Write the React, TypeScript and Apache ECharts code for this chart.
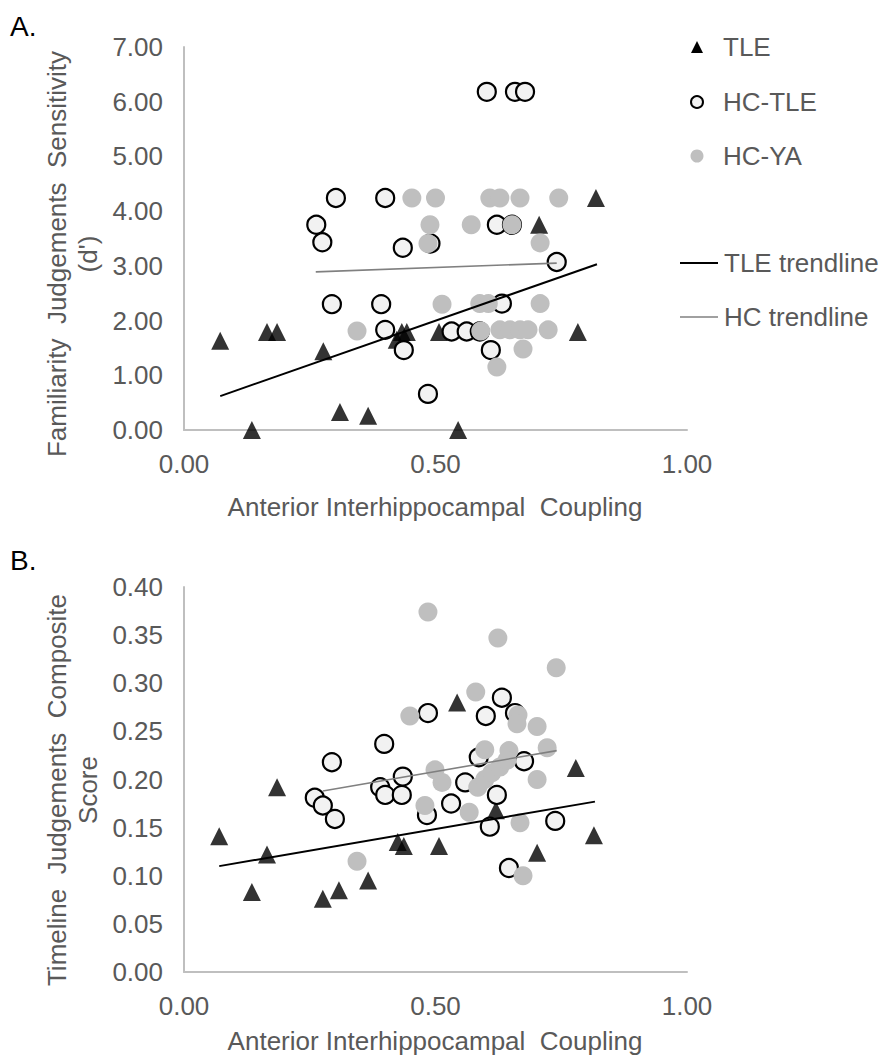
import React, { useEffect, useRef } from "react";
import * as echarts from "echarts";

// Panel A: Familiarity Judgements Sensitivity (d')
const tleA = [
  [0.072, 1.63], [0.135, 0], [0.165, 1.79], [0.185, 1.79], [0.277, 1.44], [0.31, 0.33], [0.366, 0.26],
  [0.423, 1.65], [0.433, 1.79], [0.443, 1.79], [0.507, 1.79], [0.545, 0], [0.706, 3.75], [0.783, 1.79], [0.819, 4.24],
];
const hcTleA = [
  [0.302, 4.24], [0.4, 4.24], [0.263, 3.75], [0.275, 3.43], [0.435, 3.33], [0.49, 3.41], [0.602, 6.18],
  [0.658, 6.18], [0.678, 6.18], [0.622, 3.75], [0.652, 3.75], [0.741, 3.07], [0.294, 2.3], [0.392, 2.3],
  [0.632, 2.31], [0.4, 1.83], [0.437, 1.46], [0.485, 0.66], [0.532, 1.8], [0.562, 1.8], [0.588, 1.8], [0.61, 1.46],
];
const hcYaA = [
  [0.453, 4.24], [0.5, 4.24], [0.608, 4.24], [0.628, 4.24], [0.668, 4.24], [0.745, 4.24], [0.489, 3.75],
  [0.571, 3.75], [0.652, 3.75], [0.485, 3.41], [0.708, 3.42], [0.513, 2.3], [0.588, 2.31], [0.605, 2.31],
  [0.708, 2.31], [0.344, 1.81], [0.59, 1.81], [0.628, 1.83], [0.648, 1.83], [0.668, 1.83], [0.684, 1.83],
  [0.724, 1.83], [0.674, 1.48], [0.622, 1.15],
];
const tleTrendA = [[0.072, 0.62], [0.821, 3.03]];
const hcTrendA = [[0.262, 2.89], [0.741, 3.05]];

// Panel B: Timeline Judgements Composite Score
const tleB = [
  [0.07, 0.141], [0.135, 0.083], [0.165, 0.122], [0.185, 0.192], [0.276, 0.076], [0.308, 0.085], [0.366, 0.095],
  [0.425, 0.135], [0.437, 0.131], [0.507, 0.131], [0.543, 0.28], [0.62, 0.168], [0.702, 0.124], [0.779, 0.212], [0.815, 0.142],
];
const hcTleB = [
  [0.26, 0.181], [0.276, 0.173], [0.294, 0.218], [0.3, 0.159], [0.39, 0.192], [0.398, 0.237], [0.4, 0.184],
  [0.433, 0.184], [0.435, 0.203], [0.483, 0.163], [0.485, 0.269], [0.531, 0.175], [0.559, 0.197], [0.586, 0.223],
  [0.6, 0.266], [0.608, 0.151], [0.622, 0.184], [0.632, 0.285], [0.646, 0.108], [0.658, 0.269], [0.676, 0.219], [0.738, 0.157],
];
const hcYaB = [
  [0.485, 0.374], [0.449, 0.266], [0.499, 0.21], [0.624, 0.347], [0.74, 0.316], [0.58, 0.291], [0.664, 0.267],
  [0.662, 0.258], [0.702, 0.255], [0.722, 0.233], [0.598, 0.231], [0.646, 0.23], [0.513, 0.197], [0.584, 0.192],
  [0.598, 0.2], [0.612, 0.207], [0.628, 0.213], [0.642, 0.22], [0.702, 0.2], [0.479, 0.173], [0.567, 0.166],
  [0.668, 0.155], [0.674, 0.1], [0.344, 0.115],
];
const tleTrendB = [[0.07, 0.11], [0.817, 0.177]];
const hcTrendB = [[0.276, 0.188], [0.741, 0.23]];

const xTicks = { min: 0, max: 1, interval: 0.5 };
const yTicksA = { min: 0, max: 7, interval: 1 };
const yTicksB = { min: 0, max: 0.4, interval: 0.05 };

const xTitle = "Anterior Interhippocampal  Coupling";
const yTitleA = "Familiarity  Judgements  Sensitivity\n(d')";
const yTitleB = "Timeline  Judgements  Composite\nScore";
const legendNames = ["TLE", "HC-TLE", "HC-YA", "TLE trendline", "HC trendline"];

const FONT = "'Liberation Sans', Arial, sans-serif";
const TXT = "#595959";
const FS = 26;

export default function App() {
  const ref = useRef<HTMLDivElement>(null);
  useEffect(() => {
    if (!ref.current) return;
    const chart = echarts.init(ref.current, null, { renderer: "svg" });
    const axisLine = { show: true, lineStyle: { color: "#bfbfbf", width: 2 } };
    const mkX = (gi: number) => ({
      type: "value", gridIndex: gi, ...xTicks,
      axisLine, axisTick: { show: false }, splitLine: { show: false },
      axisLabel: { color: TXT, fontSize: FS, fontFamily: FONT, margin: 21, formatter: (v: number) => v.toFixed(2) },
    });
    const mkY = (gi: number, t: any) => ({
      type: "value", gridIndex: gi, ...t,
      axisLine, axisTick: { show: false }, splitLine: { show: false },
      axisLabel: { color: TXT, fontSize: FS, fontFamily: FONT, margin: 21, formatter: (v: number) => v.toFixed(2) },
    });
    const tri = (data: number[][], gi: number) => ({
      type: "scatter", name: legendNames[0], xAxisIndex: gi, yAxisIndex: gi, data, symbol: "triangle",
      symbolSize: [18, 18], itemStyle: { color: "#000" }, z: 2,
    });
    const hct = (data: number[][], gi: number) => ({
      type: "scatter", name: legendNames[1], xAxisIndex: gi, yAxisIndex: gi, data, symbol: "circle",
      symbolSize: 18, itemStyle: { color: "#f2f2f2", borderColor: "#000", borderWidth: 2.2, opacity: 1 }, z: 3,
    });
    const hcy = (data: number[][], gi: number) => ({
      type: "scatter", name: legendNames[2], xAxisIndex: gi, yAxisIndex: gi, data, symbol: "circle",
      symbolSize: 19, itemStyle: { color: "#bfbfbf", opacity: 1 }, z: 4,
    });
    const line = (data: number[][], gi: number, name: string, color: string, width: number) => ({
      type: "line", name, xAxisIndex: gi, yAxisIndex: gi, data, showSymbol: false, symbol: "none",
      lineStyle: { color, width }, z: 5,
    });
    const text = (x: number, y: number, s: string, extra: any = {}) => ({
      type: "text", x, y,
      style: { text: s, fill: TXT, fontSize: FS, fontFamily: FONT, align: "left", verticalAlign: "middle", ...extra },
    });
    chart.setOption({
      animation: false,
      backgroundColor: "#fff",
      grid: [
        { left: 184, top: 47, width: 503, height: 383 },
        { left: 184, top: 587, width: 503, height: 385 },
      ],
      xAxis: [mkX(0), mkX(1)],
      yAxis: [mkY(0, yTicksA), mkY(1, yTicksB)],
      series: [
        tri(tleA, 0), hct(hcTleA, 0), hcy(hcYaA, 0),
        line(tleTrendA, 0, legendNames[3], "#000", 2), line(hcTrendA, 0, legendNames[4], "#808080", 1.6),
        tri(tleB, 1), hct(hcTleB, 1), hcy(hcYaB, 1),
        line(tleTrendB, 1, legendNames[3], "#000", 2), line(hcTrendB, 1, legendNames[4], "#808080", 1.6),
      ],
      graphic: [
        text(10, 26, "A.", { fill: "#000", fontSize: 28 }),
        text(10, 560, "B.", { fill: "#000", fontSize: 28 }),
        text(435, 507, xTitle, { align: "center" }),
        text(435, 1041, xTitle, { align: "center" }),
        { ...text(72, 254, yTitleA, { align: "center", lineHeight: 31 }), rotation: Math.PI / 2 },
        { ...text(72, 790, yTitleB, { align: "center", lineHeight: 31 }), rotation: Math.PI / 2 },
        // legend
        { type: "polygon", shape: { points: [[691, 53], [697, 41], [703, 53]] }, style: { fill: "#000" } },
        text(723, 47, legendNames[0]),
        { type: "circle", shape: { cx: 697, cy: 102, r: 6 }, style: { fill: "#f2f2f2", stroke: "#000", lineWidth: 2 } },
        text(723, 102, legendNames[1]),
        { type: "circle", shape: { cx: 697, cy: 156, r: 6.5 }, style: { fill: "#bfbfbf" } },
        text(723, 156, legendNames[2]),
        { type: "line", shape: { x1: 680, y1: 263, x2: 718, y2: 263 }, style: { stroke: "#000", lineWidth: 2 } },
        text(724, 263, legendNames[3]),
        { type: "line", shape: { x1: 680, y1: 317, x2: 718, y2: 317 }, style: { stroke: "#808080", lineWidth: 1.6 } },
        text(724, 317, legendNames[4]),
      ],
    });
    return () => chart.dispose();
  }, []);
  return (
    <div
      ref={ref}
      style={{ position: "fixed", left: 0, top: 0, width: 881, height: 1059, background: "#fff" }}
    />
  );
}
